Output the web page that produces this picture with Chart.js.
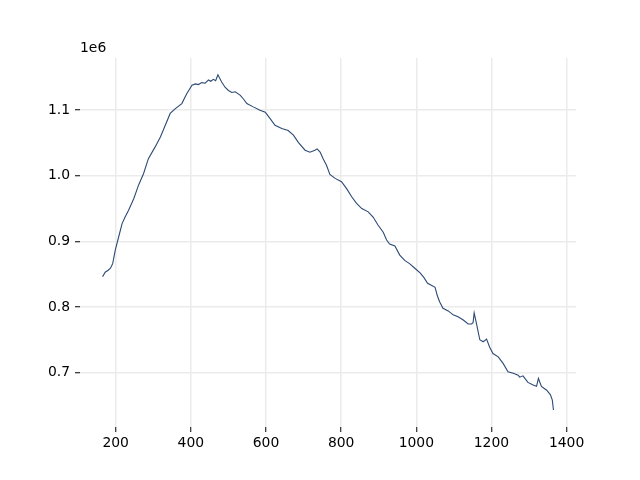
<!DOCTYPE html>
<html>
<head>
<meta charset="utf-8">
<script src="https://cdn.jsdelivr.net/npm/chart.js@4"></script>
<style>
    html, body { margin: 0; padding: 0; background: #fff; }
    #grafico { display: block; }
</style>
</head>
<body>
<canvas id="grafico" width="640" height="480"></canvas>
<script>
// Datos (eje X y valores de la serie).
const xValues = [
    165, 172, 180, 186, 192, 199, 208, 217, 225, 234, 248, 261, 274, 287, 305, 319, 332, 345, 358, 376,
    389, 403, 412, 420, 429, 438, 447, 453, 460, 466, 472, 482, 491, 500, 509, 518, 531, 540, 549, 566,
    584, 598, 611, 624, 642, 659, 673, 686, 704, 717, 730, 736, 744, 752, 761, 770, 784, 801, 815, 828,
    841, 855, 872, 885, 898, 912, 921, 929, 943, 956, 969, 982, 996, 1010, 1020, 1030, 1040, 1050, 1056, 1062,
    1071, 1085, 1098, 1111, 1125, 1138, 1147, 1151, 1154, 1160, 1169, 1178, 1187, 1195, 1204, 1218, 1231, 1244, 1258, 1271,
    1275, 1284, 1297, 1311, 1320, 1325, 1333, 1347, 1357, 1362, 1365
];
const seriesValues = [
    846000, 853000, 856000, 859000, 866000, 887000, 907000, 927000, 937000, 947000, 965000, 986000, 1003000, 1026000, 1044000, 1059000, 1077000, 1095000, 1102000, 1110000,
    1125000, 1138000, 1140000, 1139000, 1142000, 1141000, 1146000, 1144000, 1147000, 1145000, 1154000, 1143000, 1135000, 1130000, 1127000, 1128000, 1123000, 1117000, 1110000, 1105000,
    1100000, 1097000, 1087000, 1077000, 1072000, 1069000, 1062000, 1051000, 1039000, 1036000, 1039000, 1041000, 1036000, 1026000, 1016000, 1002000, 996000, 991000, 980000, 968000,
    958000, 950000, 945000, 937000, 925000, 914000, 902000, 896000, 893000, 879000, 871000, 866000, 859000, 852000, 845000, 836000, 833000, 830000, 817000, 808000,
    798000, 794000, 788000, 785000, 780000, 774000, 774000, 776000, 791000, 775000, 750000, 747000, 751000, 739000, 729000, 724000, 714000, 701000, 699000, 696000,
    693000, 695000, 685000, 681000, 679000, 691000, 679000, 673000, 666000, 658000, 643000
];
// Marcas de los ejes.
const xTicks = [200, 400, 600, 800, 1000, 1200, 1400];
const yTicks = [700000, 800000, 900000, 1000000, 1100000];

const FONT = { family: '"DejaVu Sans", sans-serif', size: 13.9 };

// Plugin para escribir el factor de escala "1e6" sobre el eje Y.
const offsetText = {
    id: 'offsetText',
    afterDraw(chart) {
        const ctx = chart.ctx;
        ctx.save();
        ctx.font = `${FONT.size}px ${FONT.family}`;
        ctx.fillStyle = '#000';
        ctx.textAlign = 'left';
        ctx.textBaseline = 'bottom';
        ctx.fillText('1e6', chart.chartArea.left, chart.chartArea.top - 3);
        ctx.restore();
    }
};

new Chart(document.getElementById('grafico'), {
    type: 'line',
    data: {
        datasets: [{
            data: xValues.map((x, i) => ({ x: x, y: seriesValues[i] })),
            borderColor: '#2c4a74',
            borderWidth: 1.1,
            pointRadius: 0,
            tension: 0,
            fill: false
        }]
    },
    options: {
        responsive: false,
        animation: false,
        layout: { padding: { top: 58, right: 64, bottom: 0, left: 0 } },
        plugins: {
            legend: { display: false },
            tooltip: { enabled: false }
        },
        scales: {
            x: {
                type: 'linear',
                min: 105,
                max: 1425,
                afterBuildTicks: (scale) => { scale.ticks = xTicks.map(v => ({ value: v })); },
                afterFit: (scale) => { scale.height = 53; },
                border: { display: false },
                grid: { color: '#ebebeb', lineWidth: 1.5, tickColor: '#000', tickLength: 5, tickWidth: 1 },
                ticks: { color: '#000', font: FONT, padding: 3, maxRotation: 0, callback: (v) => v }
            },
            y: {
                type: 'linear',
                min: 617000,
                max: 1179500,
                afterBuildTicks: (scale) => { scale.ticks = yTicks.map(v => ({ value: v })); },
                afterFit: (scale) => { scale.width = 80; },
                border: { display: false },
                grid: { color: '#ebebeb', lineWidth: 1.5, tickColor: '#000', tickLength: 5, tickWidth: 1 },
                ticks: { color: '#000', font: FONT, padding: 5, callback: (v) => (v / 1e6).toFixed(1) }
            }
        }
    },
    plugins: [offsetText]
});
</script>
</body>
</html>
